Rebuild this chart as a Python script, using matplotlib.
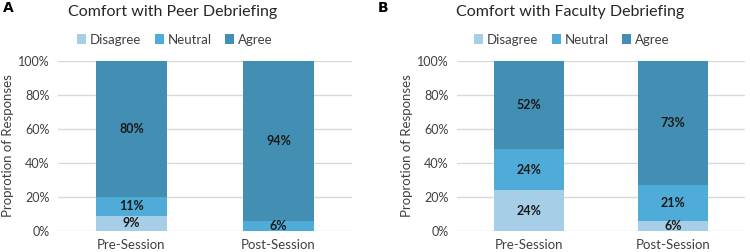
import numpy as np
import matplotlib.pyplot as plt

sessions = ["Pre-Session", "Post-Session"]
responses = ["Disagree", "Neutral", "Agree"]

peer_disagree = [9, 0]
peer_neutral = [11, 6]
peer_agree = [80, 94]

faculty_disagree = [24, 6]
faculty_neutral = [24, 21]
faculty_agree = [52, 73]

titles = ["Comfort with Peer Debriefing", "Comfort with Faculty Debriefing"]
panel_labels = ["A", "B"]

colors = {"Disagree": "#A6CEE7", "Neutral": "#4FACD8", "Agree": "#438FB3"}

plt.rcParams.update({
    "font.family": ["Lato", "DejaVu Sans"],
    "font.size": 9,
})

fig = plt.figure(figsize=(7.5, 2.52), dpi=100)
ax_a = fig.add_axes([58 / 750, 1 - 231 / 252, 294 / 750, 170 / 252])
ax_b = fig.add_axes([457 / 750, 1 - 231 / 252, 288 / 750, 170 / 252])

panels = [
    (ax_a, [peer_disagree, peer_neutral, peer_agree], (175 - 58) / 294),
    (ax_b, [faculty_disagree, faculty_neutral, faculty_agree], (572 - 457) / 288),
]

x = np.arange(len(sessions))
for i, (ax, series, leg_x) in enumerate(panels):
    bottom = np.zeros(len(sessions))
    for name, vals in zip(responses, series):
        vals = np.array(vals, dtype=float)
        ax.bar(x, vals, 0.48, bottom=bottom, color=colors[name],
               label=name, zorder=3)
        for xi, b, v in zip(x, bottom, vals):
            if v > 0:
                ax.text(xi, b + v / 2, f"{int(v)}%", ha="center", va="center",
                        fontsize=9, fontweight="bold", color="#1a1a1a", zorder=4)
        bottom += vals

    ax.set_xlim(-0.5, 1.5)
    ax.set_ylim(0, 100)
    ax.set_yticks(np.arange(0, 101, 20))
    ax.set_yticklabels([f"{v}%" for v in range(0, 101, 20)], color="#404040")
    ax.set_xticks(x)
    ax.set_xticklabels(sessions, fontsize=9.5, color="#404040")
    ax.tick_params(axis="y", length=0, pad=6)
    ax.tick_params(axis="x", length=0, pad=6)
    ax.grid(axis="y", color="#D9D9D9", linewidth=1, zorder=0)
    for s in ax.spines.values():
        s.set_visible(False)
    ax.set_ylabel("Proprotion of Responses", fontsize=9.5, color="#404040", labelpad=3)

    ax.legend(loc="lower center", bbox_to_anchor=(leg_x, 1.02), ncol=3, frameon=False,
              handlelength=0.7, handleheight=0.7, handletextpad=0.3,
              columnspacing=1.0, fontsize=9.5, labelcolor="#404040")

fig.text(173 / 750, 1 - 12 / 252, titles[0], ha="center", va="center", fontsize=11.5,
         color="#262626")
fig.text(570 / 750, 1 - 12 / 252, titles[1], ha="center", va="center", fontsize=11.5,
         color="#262626")
fig.text(3 / 750, 1 - 8 / 252, panel_labels[0], ha="left", va="center",
         fontsize=10, fontweight="bold", family="DejaVu Sans")
fig.text(378 / 750, 1 - 8 / 252, panel_labels[1], ha="left", va="center",
         fontsize=10, fontweight="bold", family="DejaVu Sans")

fig.savefig("out.png", dpi=100)
